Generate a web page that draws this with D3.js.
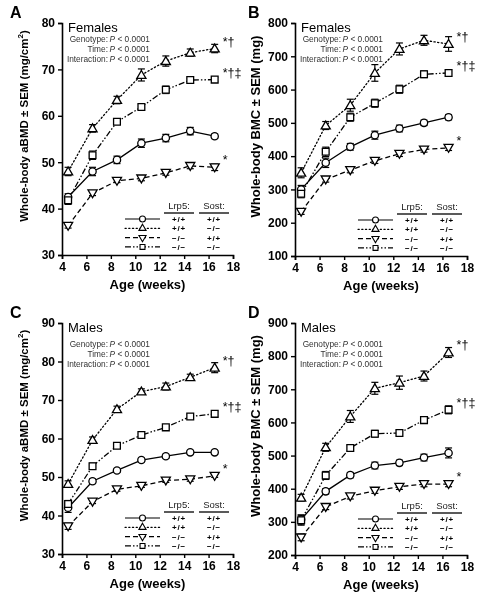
<!DOCTYPE html>
<html><head><meta charset="utf-8">
<script src="https://cdn.jsdelivr.net/npm/d3@7"></script>
<style>body{margin:0;background:#fff;} svg{display:block;font-family:"Liberation Sans",Arial,sans-serif;filter:grayscale(100%);}</style>
</head><body><svg id="c" width="479" height="599"></svg>
<script>
// ---------- data ----------
const ages = [4.5, 6.5, 8.5, 10.5, 12.5, 14.5, 16.5];
const xTicks = [4, 6, 8, 10, 12, 14, 16, 18];
const groups = ["WT", "Sost-/-", "Lrp5-/-", "Lrp5-/-;Sost-/-"];
const lrp5Labels = ["+/+", "+/+", "\u2212/\u2212", "\u2212/\u2212"];
const sostLabels = ["+/+", "\u2212/\u2212", "+/+", "\u2212/\u2212"];
const sigLabels = ["", "*\u2020", "*", "*\u2020\u2021"];

// A: Females aBMD (mg/cm2) — order: WT, Sost-/-, Lrp5-/-, DKO
const femaleBMD = [
  [42.5, 48.0, 50.5, 54.1, 55.2, 56.7, 55.6],
  [48.0, 57.3, 63.4, 68.8, 71.8, 73.6, 74.5],
  [36.3, 43.3, 46.0, 46.5, 47.7, 49.2, 48.9],
  [41.8, 51.5, 58.7, 61.9, 65.6, 67.7, 67.8]
];
const femaleBMDsem = [
  [0.7, 0.9, 0.8, 0.9, 0.8, 0.8, 0.5],
  [0.9, 0.8, 0.8, 1.3, 1.1, 0.8, 0.9],
  [0.5, 0.5, 0.4, 0.5, 0.5, 0.6, 0.7],
  [0.9, 0.9, 0.5, 0.5, 0.8, 0.4, 0.5]
];
// B: Females BMC (mg)
const femaleBMC = [
  [300, 380, 428, 463, 483, 500, 517],
  [350, 492, 553, 650, 722, 748, 737],
  [233, 330, 358, 386, 407, 420, 425],
  [287, 413, 517, 559, 601, 646, 650]
];
const femaleBMCsem = [
  [12, 14, 10, 12, 10, 8, 8],
  [15, 12, 18, 25, 18, 15, 22],
  [8, 8, 8, 8, 8, 8, 8],
  [12, 14, 12, 12, 12, 10, 10]
];
// C: Males aBMD (mg/cm2)
const maleBMD = [
  [42.0, 48.9, 51.7, 54.4, 55.4, 56.4, 56.4],
  [48.2, 59.6, 67.6, 72.2, 73.5, 75.9, 78.4],
  [37.2, 43.6, 46.8, 47.7, 49.1, 49.4, 50.3],
  [43.0, 52.8, 58.1, 60.9, 62.9, 65.7, 66.4]
];
const maleBMDsem = [
  [1.2, 0.6, 0.5, 0.5, 0.5, 0.5, 0.5],
  [0.8, 0.8, 0.8, 0.7, 0.9, 0.8, 1.3],
  [0.8, 0.5, 0.5, 0.4, 0.5, 0.5, 0.4],
  [0.9, 0.8, 0.5, 0.4, 0.4, 0.6, 0.8]
];
// D: Males BMC (mg)
const maleBMC = [
  [307, 392, 441, 470, 478, 494, 508],
  [373, 525, 618, 703, 720, 740, 811],
  [253, 345, 377, 394, 406, 414, 414],
  [305, 440, 523, 566, 568, 607, 638]
];
const maleBMCsem = [
  [14, 8, 8, 10, 8, 10, 15],
  [10, 12, 18, 18, 20, 15, 15],
  [10, 8, 8, 8, 8, 8, 8],
  [15, 12, 8, 10, 8, 10, 12]
];

const ticksBMD_F = [30, 40, 50, 60, 70, 80];
const ticksBMC_F = [100, 200, 300, 400, 500, 600, 700, 800];
const ticksBMD_M = [30, 40, 50, 60, 70, 80, 90];
const ticksBMC_M = [200, 300, 400, 500, 600, 700, 800, 900];

const statLabels = ["Genotype:", "Time:", "Interaction:"];
const statValues = ["< 0.0001", "< 0.0001", "< 0.0001"];

// ---------- layout ----------
const panels = [
  {letter: "A", sex: "Females", mean: femaleBMD, sem: femaleBMDsem, ticks: ticksBMD_F, ylab: "bmd",
   box: {x0: 62, x1: 233, y0: 23, y1: 255}, yl: 28},
  {letter: "B", sex: "Females", mean: femaleBMC, sem: femaleBMCsem, ticks: ticksBMC_F, ylab: "bmc",
   box: {x0: 295, x1: 467, y0: 23, y1: 256}, yl: 260},
  {letter: "C", sex: "Males", mean: maleBMD, sem: maleBMDsem, ticks: ticksBMD_M, ylab: "bmd",
   box: {x0: 62, x1: 233, y0: 323, y1: 554}, yl: 28},
  {letter: "D", sex: "Males", mean: maleBMC, sem: maleBMCsem, ticks: ticksBMC_M, ylab: "bmc",
   box: {x0: 295, x1: 467, y0: 323, y1: 555}, yl: 260}
];

const dashes = [null, "1.3,2.4", "5,3", "6,2,1.5,2,1.5,2"];
const sym = [
  d3.symbol().type(d3.symbolCircle).size(42)(),
  d3.symbol().type(d3.symbolTriangle).size(36)(),
  d3.symbol().type(d3.symbolTriangle).size(36)(),
  d3.symbol().type(d3.symbolSquare).size(46)()
];
const symSmall = [
  d3.symbol().type(d3.symbolCircle).size(28)(),
  d3.symbol().type(d3.symbolTriangle).size(22)(),
  d3.symbol().type(d3.symbolTriangle).size(22)(),
  d3.symbol().type(d3.symbolSquare).size(24)()
];
const rot = [0, 0, 180, 0];

const svg = d3.select("#c");

panels.forEach(p => {
  const b = p.box;
  const x = d3.scaleLinear().domain([4, 18]).range([b.x0, b.x1]);
  const y = d3.scaleLinear().domain([p.ticks[0], p.ticks[p.ticks.length - 1]]).range([b.y1, b.y0]);
  const g = svg.append("g");

  // axes
  const xa = g.append("g").attr("transform", `translate(0,${b.y1})`)
    .call(d3.axisBottom(x).tickValues(xTicks).tickSize(4).tickPadding(3).tickFormat(d3.format("d")));
  const ya = g.append("g").attr("transform", `translate(${b.x0},0)`)
    .call(d3.axisLeft(y).tickValues(p.ticks).tickSize(4).tickPadding(3).tickFormat(d3.format("d")));
  [xa, ya].forEach(a => {
    a.select(".domain").attr("stroke", "#000").attr("stroke-width", 1.6);
    a.selectAll(".tick line").attr("stroke", "#000").attr("stroke-width", 1.4);
    a.selectAll(".tick text").attr("fill", "#000").style("font-size", "12px").style("font-weight", "bold")
      .style("font-family", '"Liberation Sans",Arial,sans-serif');
  });

  // axis titles
  g.append("text").attr("x", (b.x0 + b.x1) / 2).attr("y", b.y1 + 34).attr("text-anchor", "middle")
    .style("font-size", "13px").style("font-weight", "bold").text("Age (weeks)");
  const yt = g.append("text").attr("transform", `translate(${p.yl},${(b.y0 + b.y1) / 2 - 13}) rotate(-90)`)
    .attr("text-anchor", "middle").style("font-weight", "bold");
  if (p.ylab === "bmd") {
    yt.style("font-size", "11.5px");
    yt.append("tspan").text("Whole-body aBMD \u00b1 SEM (mg/cm");
    yt.append("tspan").attr("dy", -5).style("font-size", "8px").text("2");
    yt.append("tspan").attr("dy", 5).text(")");
  } else {
    yt.style("font-size", "13px").text("Whole-body BMC \u00b1 SEM (mg)");
  }

  // panel letter
  g.append("text").attr("x", b.x0 - 52 + (b.x0 > 100 ? 5 : 0)).attr("y", b.y0 - 5)
    .style("font-size", "16px").style("font-weight", "bold").text(p.letter);

  // sex label + stats
  g.append("text").attr("x", b.x0 + 6).attr("y", b.y0 + 9)
    .style("font-size", "13px").text(p.sex);
  const sy0 = p.sex === "Males" ? b.y0 + 24 : b.y0 + 19;
  statLabels.forEach((s, i) => {
    const t = g.append("text").attr("x", b.x0 + 88).attr("y", sy0 + i * 10).attr("text-anchor", "end")
      .style("font-size", "8.3px").attr("fill", "#333");
    t.append("tspan").text(s + "\u2009");
    t.append("tspan").style("font-style", "italic").text("P");
    t.append("tspan").text(" " + statValues[i]);
  });

  // lines
  const line = d3.line().x((d, i) => x(ages[i])).y(d => y(d));
  p.mean.forEach((m, k) => {
    g.append("path").attr("d", line(m)).attr("fill", "none").attr("stroke", "#000")
      .attr("stroke-width", 1.3).attr("stroke-dasharray", dashes[k])
      .attr("stroke-linecap", k === 1 ? "round" : "butt");
  });
  // error bars + markers
  p.mean.forEach((m, k) => {
    m.forEach((v, i) => {
      const cx = x(ages[i]), s = p.sem[k][i];
      const e = g.append("g").attr("stroke", "#000").attr("stroke-width", 1.2);
      e.append("line").attr("x1", cx).attr("x2", cx).attr("y1", y(v - s)).attr("y2", y(v + s));
      e.append("line").attr("x1", cx - 3.5).attr("x2", cx + 3.5).attr("y1", y(v - s)).attr("y2", y(v - s));
      e.append("line").attr("x1", cx - 3.5).attr("x2", cx + 3.5).attr("y1", y(v + s)).attr("y2", y(v + s));
    });
  });
  p.mean.forEach((m, k) => {
    m.forEach((v, i) => {
      g.append("path").attr("d", sym[k])
        .attr("transform", `translate(${x(ages[i])},${y(v) + (k === 1 ? 0.8 : k === 2 ? -0.8 : 0)}) rotate(${rot[k]})`)
        .attr("fill", "#fff").attr("stroke", "#000").attr("stroke-width", 1.3);
    });
    if (sigLabels[k]) {
      const last = m[m.length - 1];
      g.append("text").attr("x", x(ages[ages.length - 1]) + 8).attr("y", y(last) - 3)
        .style("font-size", "12.5px").text(sigLabels[k]);
    }
  });

  // legend
  const lx0 = b.x0 + 63, lx1 = b.x0 + 98, c1 = b.x0 + 117, c2 = b.x0 + 152;
  const ly = [b.y1 - 36, b.y1 - 26.7, b.y1 - 17.4, b.y1 - 8.1];
  const hy = b.y1 - 46;
  [["Lrp5:", c1], ["Sost:", c2]].forEach(([t, cx]) => {
    g.append("text").attr("x", cx).attr("y", hy).attr("text-anchor", "middle")
      .style("font-size", "9.5px").attr("fill", "#222").text(t);
    g.append("line").attr("x1", cx - 15).attr("x2", cx + 15).attr("y1", hy + 4).attr("y2", hy + 4)
      .attr("stroke", "#000").attr("stroke-width", 1.3);
  });
  groups.forEach((gname, k) => {
    g.append("line").attr("x1", lx0).attr("x2", lx1).attr("y1", ly[k]).attr("y2", ly[k])
      .attr("stroke", "#000").attr("stroke-width", 1.2).attr("stroke-dasharray", dashes[k])
      .attr("stroke-linecap", k === 1 ? "round" : "butt");
    g.append("path").attr("d", symSmall[k])
      .attr("transform", `translate(${(lx0 + lx1) / 2},${ly[k]}) rotate(${rot[k]})`)
      .attr("fill", "#fff").attr("stroke", "#000").attr("stroke-width", 1.1);
    [[lrp5Labels[k], c1], [sostLabels[k], c2]].forEach(([t, cx]) => {
      g.append("text").attr("x", cx).attr("y", ly[k] + 3).attr("text-anchor", "middle")
        .style("font-size", "8px").style("font-weight", "bold").style("letter-spacing", "0.8px").text(t);
    });
  });
});
</script></body></html>
